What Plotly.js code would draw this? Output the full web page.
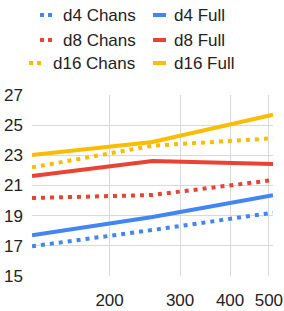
<!DOCTYPE html>
<html>
<head>
<meta charset="utf-8">
<script src="https://cdn.plot.ly/plotly-3.0.1.min.js"></script>
<style>html,body{margin:0;padding:0;background:#fff;}#chart{width:284px;height:311px;}</style>
</head>
<body>
<div id="chart"></div>
<script>
const xValues = [128, 256, 512];
const d4Chans = [16.97, 18.05, 19.2];
const d4Full = [17.7, 18.91, 20.35];
const d8Chans = [20.17, 20.37, 21.36];
const d8Full = [21.63, 22.62, 22.43];
const d16Chans = [22.2, 23.64, 24.13];
const d16Full = [23.02, 23.88, 25.7];
const seriesNames = ["d4 Chans", "d4 Full", "d8 Chans", "d8 Full", "d16 Chans", "d16 Full"];
const yTicks = [15, 17, 19, 21, 23, 25, 27];
const xTicks = [200, 300, 400, 500];

const BLUE = "#4285F4", RED = "#EA4335", YELLOW = "#FBBC04";
const series = [
  {y: d4Chans, color: BLUE, dotted: true},
  {y: d4Full, color: BLUE, dotted: false},
  {y: d8Chans, color: RED, dotted: true},
  {y: d8Full, color: RED, dotted: false},
  {y: d16Chans, color: YELLOW, dotted: true},
  {y: d16Full, color: YELLOW, dotted: false}
];

const L = 32, R = 11, T = 95, B = 35, W = 284, H = 311;
const pw = W - L - R, ph = H - T - B;
const px = v => (v - L) / pw;
const py = v => (H - B - v) / ph;

const traces = series.map((s, i) => ({
  x: xValues, y: s.y, name: seriesNames[i], type: "scatter", mode: "lines",
  line: {color: s.color, width: 4, dash: s.dotted ? "4px,5px" : "solid"},
  showlegend: false, hoverinfo: "skip"
}));

// manual legend (layout), positions in pixels
const rowsY = [15, 40, 63];
const legendPos = [
  {sym: [40, 52], text: 62},
  {sym: [153, 166], text: 173},
  {sym: [40, 52], text: 62},
  {sym: [153, 166], text: 173},
  {sym: [29, 43], text: 52},
  {sym: [153, 166], text: 173}
];
const shapes = [], annotations = [];
series.forEach((s, i) => {
  const p = legendPos[i], yy = rowsY[Math.floor(i / 2)];
  shapes.push({type: "line", xref: "paper", yref: "paper",
    x0: px(p.sym[0]), x1: px(p.sym[1]), y0: py(yy), y1: py(yy),
    line: {color: s.color, width: 4, dash: s.dotted ? "4px,4px" : "solid"}});
  annotations.push({xref: "paper", yref: "paper", x: px(p.text - 1), y: py(yy),
    xanchor: "left", yanchor: "middle", showarrow: false, text: seriesNames[i],
    font: {family: "Liberation Sans, Arial, sans-serif", size: 17, color: "#222222"}});
});

const layout = {
  width: W, height: H,
  margin: {l: L, r: R, t: T, b: B, pad: 0},
  paper_bgcolor: "#ffffff", plot_bgcolor: "#ffffff",
  showlegend: false,
  font: {family: "Liberation Sans, Arial, sans-serif", size: 17, color: "#222222"},
  xaxis: {type: "log", range: [Math.log10(128), Math.log10(512)],
    tickvals: xTicks, ticktext: xTicks.map(String),
    showgrid: true, gridcolor: "#d9d9d9", gridwidth: 1, zeroline: false, showline: false,
    ticks: "", ticklabelstandoff: 12, fixedrange: true},
  yaxis: {range: [15, 27], tickvals: yTicks, ticktext: yTicks.map(String),
    showgrid: true, gridcolor: "#d9d9d9", gridwidth: 1, zeroline: false, showline: false,
    ticks: "", ticklabelstandoff: 8, fixedrange: true},
  shapes: shapes, annotations: annotations
};

Plotly.newPlot("chart", traces, layout, {displayModeBar: false, staticPlot: true});
</script>
</body>
</html>
